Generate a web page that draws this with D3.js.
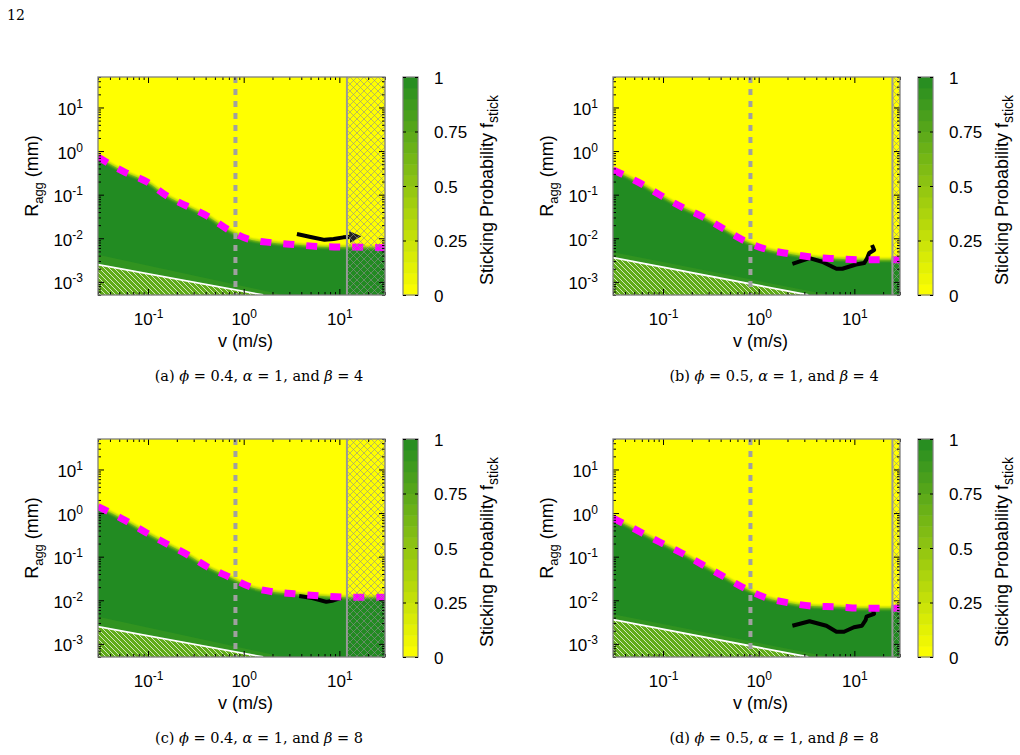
<!DOCTYPE html>
<html lang="en">
<head>
<meta charset="utf-8">
<title>Sticking probability maps</title>
<script src="https://cdn.jsdelivr.net/npm/d3@7/dist/d3.min.js"></script>
<style>
  body { margin: 0; background: #fff; }
  svg text { font-family: "Liberation Sans", Arial, sans-serif; fill: #000; }
  svg .serif { font-family: "DejaVu Serif", "Liberation Serif", serif; }
</style>
</head>
<body>
<svg id="fig" width="1020" height="755"></svg>
<script>
// ---- data (v in m/s, R in mm) ----
var panelIds = ["a", "b", "c", "d"];
var captionPhi = ["0.4", "0.5", "0.4", "0.5"];
var captionBeta = ["4", "4", "8", "8"];
var xMajor = [0.1, 1, 10];
var yMajor = [1e-3, 1e-2, 1e-1, 1, 10];
var cbTicks = [0, 0.25, 0.5, 0.75, 1];

// magenta boundary = top of the f_stick ~ 1 region
var boundaryA = [[0.03,0.73],[0.057,0.33],[0.098,0.195],[0.158,0.093],[0.254,0.055],[0.42,0.032],[0.68,0.016],[1.1,0.0097],[2.0,0.0079],[3.6,0.0071],[6.6,0.0064],[12.6,0.0063],[30,0.0061]];
var boundaryB = [[0.03,0.37],[0.057,0.186],[0.093,0.098],[0.158,0.052],[0.26,0.031],[0.42,0.017],[0.68,0.0092],[1.2,0.0056],[2.1,0.0044],[3.6,0.0037],[6.5,0.0034],[11.7,0.0032],[30,0.0032]];
var boundaryC = [[0.03,1.4],[0.057,0.69],[0.097,0.35],[0.158,0.195],[0.26,0.11],[0.42,0.058],[0.71,0.034],[1.2,0.020],[2.1,0.0155],[3.8,0.0138],[6.6,0.0125],[11.7,0.0118],[30,0.0118]];
var boundaryD = [[0.03,0.77],[0.055,0.39],[0.092,0.217],[0.158,0.12],[0.26,0.065],[0.42,0.036],[0.71,0.019],[1.2,0.0114],[2.1,0.0087],[3.6,0.0074],[6.6,0.0071],[11.7,0.0066],[30,0.0066]];

// black growth tracks
var trackA = [[3.6,0.0125],[5.0,0.0107],[7.0,0.0092],[8.7,0.0096],[11,0.0105],[13.5,0.0108]];
var trackB = [[2.25,0.0026],[3.4,0.0035],[4.6,0.0029],[6.5,0.0020],[7.5,0.0020],[10.4,0.0025],[12.7,0.0027],[13.6,0.0035],[14.3,0.0046],[16.1,0.0054],[15.3,0.0070]];
var trackC = [[3.8,0.0125],[5.2,0.0113],[7.3,0.0092],[8.4,0.0097],[10.4,0.0113]];
var trackD = [[2.25,0.0026],[3.4,0.0033],[5.1,0.0026],[6.5,0.0019],[7.8,0.0019],[9.9,0.0024],[12,0.0026],[13.1,0.0035],[13.4,0.0042],[16.1,0.0049],[15.3,0.0064]];
var trackArrow = [true, false, false, false];

// lower-left regions: white bouncing limit and slightly lower f band
var whiteA = [[0.03,0.0025],[1.6,5e-4]];
var whiteB = [[0.03,0.0036],[3.3,5e-4]];
var bandA = [[0.03,0.0042],[2.6,5e-4]];
var bandB = [[0.03,0.0048],[5.5,5e-4]];

var dashV = [0.82, 0.82, 0.82, 0.82];     // grey dashed vertical
var cutoffV = [12, 25, 12, 25];           // hatched beyond this speed

var boundaries = [boundaryA, boundaryB, boundaryC, boundaryD];
var tracks = [trackA, trackB, trackC, trackD];
var whites = [whiteA, whiteB, whiteA, whiteB];
var bands = [bandA, bandB, bandA, bandB];

// ---- layout ----
var W = 287, H = 218;
var origins = [[98, 77], [613, 77], [98, 439], [613, 439]];

var svg = d3.select("#fig");
var x = d3.scaleLog().domain([0.03, 30]).range([0, W]);
var y = d3.scaleLog().domain([5e-4, 50]).range([H, 0]);
var cb = d3.scaleLinear().domain([0, 1]).range([H, 0]);
var pal = d3.scaleLinear().domain([0, 1]).range(["#ffff00", "#228b22"]);

svg.append("text").attr("class", "serif").attr("x", 7).attr("y", 20)
  .attr("font-size", 14).text("12");

var defs = svg.append("defs");
defs.append("filter").attr("id", "soft")
  .append("feGaussianBlur").attr("stdDeviation", 0.9);
var hp = defs.append("pattern").attr("id", "hatch")
  .attr("patternUnits", "userSpaceOnUse").attr("width", 5).attr("height", 5);
hp.append("path").attr("d", "M-1,-1L6,6M-1,4L1,6M4,-1L6,1")
  .attr("stroke", "#fff").attr("stroke-width", 0.8).attr("stroke-opacity", 0.9);
var cp = defs.append("pattern").attr("id", "cross")
  .attr("patternUnits", "userSpaceOnUse").attr("width", 7).attr("height", 7);
cp.append("path").attr("d", "M0,0L7,7M7,0L0,7M-1,6L1,8M6,-1L8,1")
  .attr("stroke", "#8f8f8f").attr("stroke-width", 0.6);
defs.append("marker").attr("id", "arrow").attr("viewBox", "0 0 10 10")
  .attr("refX", 2).attr("refY", 5).attr("markerWidth", 3).attr("markerHeight", 3)
  .attr("orient", "auto").attr("markerUnits", "strokeWidth")
  .append("path").attr("d", "M0,0L10,5L0,10Z").attr("fill", "#222");

var line = d3.line().x(function(d) { return x(d[0]); }).y(function(d) { return y(d[1]); });
var smooth = d3.line().x(function(d) { return x(d[0]); }).y(function(d) { return y(d[1]); })
  .curve(d3.curveMonotoneX);
var area = d3.area().x(function(d) { return x(d[0]); }).y0(H)
  .y1(function(d) { return y(d[1]); }).curve(d3.curveMonotoneX);

function supLabel(sel) {
  sel.each(function(d) {
    var t = d3.select(this).text(null);
    t.append("tspan").text("10");
    t.append("tspan").attr("dy", -7).attr("font-size", 12)
      .text(Math.round(Math.log10(d)));
  });
}

panelIds.forEach(function(id, i) {
  var o = origins[i];
  var g = svg.append("g").attr("transform", "translate(" + o[0] + "," + o[1] + ")");

  defs.append("clipPath").attr("id", "clip" + id)
    .append("rect").attr("width", W).attr("height", H);
  var p = g.append("g").attr("clip-path", "url(#clip" + id + ")");

  p.append("rect").attr("width", W).attr("height", H).attr("fill", "#ffff00");
  p.append("path").attr("d", area(boundaries[i])).attr("fill", pal(1));
  p.append("path").attr("d", smooth(boundaries[i])).attr("fill", "none")
    .attr("stroke", pal(0.5)).attr("stroke-width", 2.5).attr("filter", "url(#soft)");

  var b = bands[i], w = whites[i];
  p.append("path")
    .attr("d", line([b[0], b[1], [0.03, 5e-4]]) + "Z").attr("fill", pal(0.93));
  var tri = line([w[0], w[1], [0.03, 5e-4]]) + "Z";
  p.append("path").attr("d", tri).attr("fill", pal(0.72));
  p.append("path").attr("d", tri).attr("fill", "url(#hatch)");
  p.append("path").attr("d", line(w)).attr("stroke", "#fff")
    .attr("stroke-width", 1.8).attr("fill", "none");

  p.append("line").attr("x1", x(dashV[i])).attr("x2", x(dashV[i]))
    .attr("y1", 0).attr("y2", H).attr("stroke", "#a0a0a0")
    .attr("stroke-width", 4).attr("stroke-dasharray", "6,6");

  var tr = p.append("path").attr("d", line(tracks[i])).attr("fill", "none")
    .attr("stroke", "#000").attr("stroke-width", 4)
    .attr("stroke-linejoin", "round");
  if (trackArrow[i]) tr.attr("marker-end", "url(#arrow)");

  p.append("path").attr("d", smooth(boundaries[i])).attr("fill", "none")
    .attr("stroke", "#ff00ff").attr("stroke-width", 7)
    .attr("stroke-dasharray", "11,12");

  p.append("rect").attr("x", x(cutoffV[i])).attr("width", W - x(cutoffV[i]))
    .attr("height", H).attr("fill", "url(#cross)");
  p.append("line").attr("x1", x(cutoffV[i])).attr("x2", x(cutoffV[i]))
    .attr("y1", 0).attr("y2", H).attr("stroke", "#999").attr("stroke-width", 2);

  // axes with inward ticks on all four sides
  var xMinor = x.ticks().filter(function(v) { return xMajor.indexOf(v) < 0; });
  var yMinor = y.ticks().filter(function(v) { return yMajor.indexOf(v) < 0; });
  var axes = g.append("g");
  axes.append("g").attr("transform", "translate(0," + H + ")")
    .call(d3.axisBottom(x).tickValues(xMinor).tickSize(-3).tickSizeOuter(0).tickFormat(""));
  axes.append("g").call(d3.axisTop(x).tickValues(xMinor).tickSize(-3).tickSizeOuter(0).tickFormat(""));
  axes.append("g").call(d3.axisTop(x).tickValues(xMajor).tickSize(-6).tickSizeOuter(0).tickFormat(""));
  axes.append("g").call(d3.axisLeft(y).tickValues(yMinor).tickSize(-3).tickSizeOuter(0).tickFormat(""));
  axes.append("g").attr("transform", "translate(" + W + ",0)")
    .call(d3.axisRight(y).tickValues(yMinor).tickSize(-3).tickSizeOuter(0).tickFormat(""));
  axes.append("g").attr("transform", "translate(" + W + ",0)")
    .call(d3.axisRight(y).tickValues(yMajor).tickSize(-6).tickSizeOuter(0).tickFormat(""));

  var xa = axes.append("g").attr("transform", "translate(0," + H + ")")
    .call(d3.axisBottom(x).tickValues(xMajor).tickSize(-6).tickSizeOuter(0));
  xa.selectAll(".tick text").attr("y", 30).attr("dy", null).call(supLabel);
  var ya = axes.append("g")
    .call(d3.axisLeft(y).tickValues(yMajor).tickSize(-6).tickSizeOuter(0).tickPadding(15));
  ya.selectAll(".tick text").attr("dy", 7).call(supLabel);

  axes.selectAll(".domain").remove();
  axes.selectAll(".tick line").attr("stroke", "#000");
  axes.selectAll("text").attr("font-size", 17).attr("font-family", null);
  axes.selectAll("tspan[font-size]").attr("font-size", 12);

  g.append("rect").attr("width", W).attr("height", H).attr("fill", "none")
    .attr("stroke", "#7f7f7f").attr("stroke-width", 1.3);

  g.append("text").attr("x", W / 2 + 4).attr("y", H + 52).attr("text-anchor", "middle")
    .attr("font-size", 18).text("v (m/s)");
  var yl = g.append("text").attr("transform", "translate(" + (-60) + "," + (H / 2 - 10) + ") rotate(-90)")
    .attr("text-anchor", "middle").attr("font-size", 18);
  yl.append("tspan").text("R");
  yl.append("tspan").attr("dy", 5).attr("font-size", 13).text("agg");
  yl.append("tspan").attr("dy", -5).text(" (mm)");

  // colour bar
  var c = g.append("g").attr("transform", "translate(" + (W + 18) + ",0)");
  var steps = d3.range(0, 1, 0.05);
  c.selectAll("rect.step").data(steps).enter().append("rect").attr("class", "step")
    .attr("x", 0).attr("width", 15)
    .attr("y", function(d) { return cb(d + 0.05); })
    .attr("height", function(d) { return cb(d) - cb(d + 0.05) + 0.5; })
    .attr("fill", function(d) { return pal(d + 0.025); });
  c.append("rect").attr("width", 15).attr("height", H).attr("fill", "none")
    .attr("stroke", "#7f7f7f").attr("stroke-width", 1.2);
  var ca = c.append("g").attr("transform", "translate(15,0)")
    .call(d3.axisRight(cb).tickValues(cbTicks).tickSize(-3).tickSizeOuter(0)
      .tickPadding(16).tickFormat(d3.format("")));
  c.append("g").call(d3.axisLeft(cb).tickValues(cbTicks).tickSize(-3).tickSizeOuter(0).tickFormat(""))
    .select(".domain").remove();
  ca.select(".domain").remove();
  ca.selectAll("text").attr("font-size", 17).attr("font-family", null).attr("dy", 6);
  c.selectAll(".tick line").attr("stroke", "#000");

  var cl = c.append("text")
    .attr("transform", "translate(" + 90 + "," + (H / 2 + 4) + ") rotate(-90)")
    .attr("text-anchor", "middle").attr("font-size", 18);
  cl.append("tspan").text("Sticking Probability  f");
  cl.append("tspan").attr("dy", 5).attr("font-size", 14).text("stick");

  // caption
  var cap = g.append("text").attr("class", "serif").attr("x", 161).attr("y", H + 86)
    .attr("text-anchor", "middle").attr("font-size", 14.5);
  cap.append("tspan").text("(" + id + ") ");
  cap.append("tspan").attr("font-style", "italic").text("\u03d5");
  cap.append("tspan").text(" = " + captionPhi[i] + ", ");
  cap.append("tspan").attr("font-style", "italic").text("\u03b1");
  cap.append("tspan").text(" = 1, and ");
  cap.append("tspan").attr("font-style", "italic").text("\u03b2");
  cap.append("tspan").text(" = " + captionBeta[i]);
});
</script>
</body>
</html>
